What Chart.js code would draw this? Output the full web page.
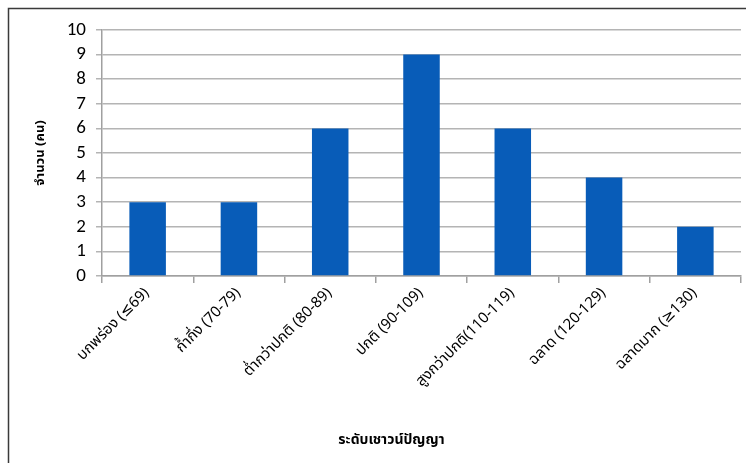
<!DOCTYPE html>
<html>
<head>
<meta charset="utf-8">
<script src="https://cdn.jsdelivr.net/npm/chart.js@4"></script>
<style>
html,body{margin:0;padding:0;background:#fff;}
#wrap{width:746px;height:463px;position:relative;}
</style>
</head>
<body>
<div id="wrap"><canvas id="c" width="746" height="463"></canvas></div>
<script>
const categories = ["บกพร่อง (≤69)", "ก้ำกึ่ง (70-79)", "ต่ำกว่าปกติ (80-89)", "ปกติ (90-109)", "สูงกว่าปกติ(110-119)", "ฉลาด (120-129)", "ฉลาดมาก (≥130)"];
const counts = [3, 3, 6, 9, 6, 4, 2];
const yTitle = "จำนวน (คน)";
const xTitle = "ระดับเชาวน์ปัญญา";

const FONT = "Tahoma, 'Noto Sans Thai', 'Noto Sans', 'DejaVu Sans', sans-serif";
const NUMFONT = "Carlito, Calibri, 'Open Sans', 'Noto Sans', sans-serif";

const frame = {
  id: 'frame',
  beforeDraw(chart) {
    const ctx = chart.ctx;
    ctx.save();
    ctx.fillStyle = '#fff';
    ctx.fillRect(0, 0, chart.width, chart.height);
    ctx.strokeStyle = '#3a3a3a';
    ctx.lineWidth = 1.5;
    ctx.beginPath();
    ctx.moveTo(8.5, chart.height + 5);
    ctx.lineTo(8.5, 8.5);
    ctx.lineTo(chart.width + 5, 8.5);
    ctx.stroke();
    ctx.restore();
  }
};

const xTitlePlugin = {
  id: 'xTitlePlugin',
  afterDraw(chart) {
    const ctx = chart.ctx;
    const a = chart.chartArea;
    ctx.save();
    ctx.fillStyle = '#000';
    ctx.font = "bold 14px " + FONT;
    ctx.textAlign = 'center';
    ctx.textBaseline = 'middle';
    ctx.fillText(xTitle, (a.left + a.right) / 2 - 30, chart.height - 22);
    ctx.restore();
  }
};

new Chart(document.getElementById('c'), {
  type: 'bar',
  data: {
    labels: categories,
    datasets: [{
      data: counts,
      backgroundColor: '#085cb8',
      borderWidth: 0,
      barPercentage: 0.4,
      categoryPercentage: 1.0
    }]
  },
  options: {
    responsive: false,
    animation: false,
    devicePixelRatio: 1,
    layout: { padding: { left: 24, top: 30, right: 5, bottom: 0 } },
    plugins: { legend: { display: false }, tooltip: { enabled: false } },
    scales: {
      x: {
        grid: { display: true, drawOnChartArea: false, drawTicks: true, tickLength: 7, color: '#a0a0a0', lineWidth: 1.5, offset: true },
        border: { display: true, color: '#a0a0a0', width: 1.5 },
        ticks: { color: '#000', font: { family: FONT, size: 15 }, maxRotation: 45, minRotation: 45, padding: 2, autoSkip: false },
        afterFit(scale) { scale.height = 187; }
      },
      y: {
        min: 0, max: 10,
        grid: { color: '#b4b4b4', lineWidth: 1.5, tickLength: 6, drawTicks: true },
        border: { display: true, color: '#a0a0a0', width: 1.5 },
        ticks: { stepSize: 1, autoSkip: false, color: '#000', font: { family: NUMFONT, size: 19 }, padding: 10 },
        title: { display: true, text: yTitle, color: '#000', font: { family: FONT, size: 13, weight: 'bold' }, padding: { top: 10, bottom: 0 } },
        afterFit(scale) { scale.width = 78; }
      }
    }
  },
  plugins: [frame, xTitlePlugin]
});
</script>
</body>
</html>
